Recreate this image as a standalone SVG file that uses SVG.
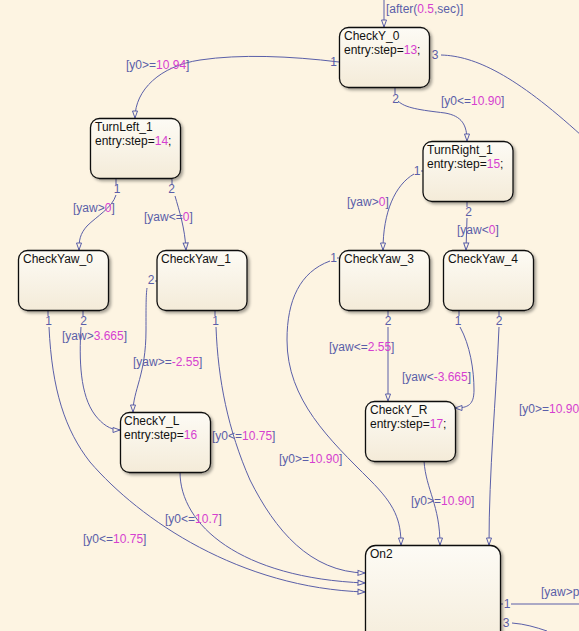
<svg xmlns="http://www.w3.org/2000/svg" width="579" height="631" viewBox="0 0 579 631">
<style>
text{font-family:"Liberation Sans",Arial,sans-serif;font-size:12px}
.nt{fill:#111}
.num{fill:#d63fd0}
.lbl{fill:#5a5ea8}
.idx{fill:#5a5ea8;text-anchor:middle}
.box{fill:url(#g);stroke:#111;stroke-width:1.3;filter:url(#sh)}
.c{fill:none;stroke:#5a5fa8;stroke-width:1}
.a{marker-end:url(#arr)}
</style>
<defs>
<linearGradient id="g" x1="0" y1="0" x2="0" y2="1">
<stop offset="0" stop-color="#fdfbf5"/>
<stop offset="1" stop-color="#f4ebd8"/>
</linearGradient>
<filter id="sh" x="-10%" y="-10%" width="130%" height="130%">
<feDropShadow dx="2" dy="2" stdDeviation="1.5" flood-color="#000" flood-opacity="0.35"/>
</filter>
<marker id="arr" markerUnits="userSpaceOnUse" markerWidth="9" markerHeight="7" refX="7.5" refY="3" orient="auto" overflow="visible">
<path d="M0.5,0.5 L7.5,3 L0.5,5.5 Z" fill="#fdf4e2" stroke="#5a5fa8" stroke-width="1"/>
</marker>
</defs>
<rect width="579" height="631" fill="#fdf4e2"/>

<g id="connectors">
<path class="c a" d="M384,0 L384,27"/>
<path class="c a" d="M339,62 C290,56 240,54 200,60 C160,66 135,90 135,118"/>
<path class="c a" d="M395,87 L395,94 M398,101 C405,108 420,110 445,113 C462,116 467,125 467,141"/>
<path class="c" d="M441,55 C475,56 515,75 582,136"/>
<path class="c a" d="M116,178 L116,185 M116,195 C112,208 97,216 87,226 C80,234 79,240 79,250"/>
<path class="c a" d="M172,178 L172,185 M175,196 C179,210 185,228 186,250"/>
<path class="c a" d="M83,310 L83,316 M81,327 C79,360 80,395 95,415 C102,424 110,430 120,430"/>
<path class="c a" d="M48,310 L48,316 M49,327 C52,390 65,430 90,462 C140,520 240,588 365,592"/>
<path class="c a" d="M157,281 L155,281 M147,288 C146,295 146,305 146,330 C146,375 133,390 133,412"/>
<path class="c a" d="M215,310 L215,316 M216,327 C218,380 228,430 250,480 C275,530 310,572 365,573"/>
<path class="c a" d="M180,472 C180,525 240,578 365,583"/>
<path class="c a" d="M423,171 L421,171 M414,174 C395,185 383,212 383,250"/>
<path class="c a" d="M467,201 L467,207 M467,218 L466,250"/>
<path class="c a" d="M339,258 L337,258 M330,261 C300,272 287,300 287,340 C287,400 330,440 370,480 C395,505 401,520 401,545"/>
<path class="c a" d="M388,310 L388,316 M388,327 L388,401"/>
<path class="c a" d="M459,310 L459,316 M460,327 C470,345 474,370 474,390 C474,405 468,408 455,408"/>
<path class="c a" d="M499,310 L499,316 M499,327 C496,400 489,470 489,545"/>
<path class="c a" d="M424,461 C426,490 440,505 440,545"/>
<path class="c" d="M501,604 L503,604 M511,604 L579,604"/>
<path class="c" d="M512,623 C525,624 535,627 547,631"/>

<text class="lbl" x="386" y="13">[after(<tspan class="num">0.5</tspan>,sec)]</text>
<text class="lbl" x="126" y="69">[y0&gt;=<tspan class="num">10.94</tspan>]</text>
<text class="lbl" x="441" y="105">[y0&lt;=<tspan class="num">10.90</tspan>]</text>
<text class="lbl" x="73" y="212">[yaw&gt;<tspan class="num">0</tspan>]</text>
<text class="lbl" x="144" y="221">[yaw&lt;=<tspan class="num">0</tspan>]</text>
<text class="lbl" x="347" y="206">[yaw&gt;<tspan class="num">0</tspan>]</text>
<text class="lbl" x="457" y="234">[yaw&lt;<tspan class="num">0</tspan>]</text>
<text class="lbl" x="62" y="340">[yaw&gt;<tspan class="num">3.665</tspan>]</text>
<text class="lbl" x="133" y="366">[yaw&gt;=<tspan class="num">-2.55</tspan>]</text>
<text class="lbl" x="329" y="351">[yaw&lt;=<tspan class="num">2.55</tspan>]</text>
<text class="lbl" x="402" y="381">[yaw&lt;<tspan class="num">-3.665</tspan>]</text>
<text class="lbl" x="519" y="413">[y0&gt;=<tspan class="num">10.90</tspan>]</text>
<text class="lbl" x="212" y="440">[y0&lt;=<tspan class="num">10.75</tspan>]</text>
<text class="lbl" x="279" y="463">[y0&gt;=<tspan class="num">10.90</tspan>]</text>
<text class="lbl" x="411" y="505">[y0&gt;=<tspan class="num">10.90</tspan>]</text>
<text class="lbl" x="165" y="523">[y0&lt;=<tspan class="num">10.7</tspan>]</text>
<text class="lbl" x="83" y="543">[y0&lt;=<tspan class="num">10.75</tspan>]</text>
<text class="lbl" x="541" y="596">[yaw&gt;p</text>

<text class="idx" x="333.5" y="66">1</text>
<text class="idx" x="395.5" y="102.5">2</text>
<text class="idx" x="435" y="58.5">3</text>
<text class="idx" x="117" y="193">1</text>
<text class="idx" x="171.5" y="193">2</text>
<text class="idx" x="417" y="175">1</text>
<text class="idx" x="468.5" y="215.5">2</text>
<text class="idx" x="48.5" y="324.5">1</text>
<text class="idx" x="83.5" y="324.5">2</text>
<text class="idx" x="151" y="284">2</text>
<text class="idx" x="215.5" y="324.5">1</text>
<text class="idx" x="333.5" y="261.5">1</text>
<text class="idx" x="388" y="324.5">2</text>
<text class="idx" x="458" y="324.5">1</text>
<text class="idx" x="499" y="324.5">2</text>
<text class="idx" x="507" y="607.5">1</text>
<text class="idx" x="506" y="626.5">3</text>
</g>

<g id="CheckY_0"><rect class="box" x="339.5" y="27.5" width="90" height="60" rx="9"/>
<text class="nt" x="344" y="40">CheckY_0</text>
<text class="nt" x="344" y="54">entry:step=<tspan class="num">13</tspan>;</text></g>

<g id="TurnLeft_1"><rect class="box" x="90.5" y="118.5" width="90" height="60" rx="9"/>
<text class="nt" x="95" y="131">TurnLeft_1</text>
<text class="nt" x="95" y="145">entry:step=<tspan class="num">14</tspan>;</text></g>

<g id="TurnRight_1"><rect class="box" x="423" y="141.5" width="90" height="60" rx="9"/>
<text class="nt" x="427" y="154">TurnRight_1</text>
<text class="nt" x="427" y="168">entry:step=<tspan class="num">15</tspan>;</text></g>

<g id="CheckYaw_0"><rect class="box" x="18.5" y="250.5" width="90" height="60" rx="9"/>
<text class="nt" x="23" y="263">CheckYaw_0</text></g>

<g id="CheckYaw_1"><rect class="box" x="157" y="250.5" width="90" height="60" rx="9"/>
<text class="nt" x="161" y="263">CheckYaw_1</text></g>

<g id="CheckYaw_3"><rect class="box" x="339.5" y="250.5" width="90" height="60" rx="9"/>
<text class="nt" x="344" y="263">CheckYaw_3</text></g>

<g id="CheckYaw_4"><rect class="box" x="443.5" y="250.5" width="90" height="60" rx="9"/>
<text class="nt" x="448" y="263">CheckYaw_4</text></g>

<g id="CheckY_L"><rect class="box" x="120.5" y="412.5" width="90" height="60" rx="9"/>
<text class="nt" x="124" y="425">CheckY_L</text>
<text class="nt" x="124" y="439">entry:step=<tspan class="num">16</tspan></text></g>

<g id="CheckY_R"><rect class="box" x="365.5" y="401.5" width="90" height="60" rx="9"/>
<text class="nt" x="370" y="414">CheckY_R</text>
<text class="nt" x="370" y="428">entry:step=<tspan class="num">17</tspan>;</text></g>

<g id="On2"><rect class="box" x="365.5" y="545.5" width="135" height="110" rx="10"/>
<text class="nt" x="370" y="558">On2</text></g>
</svg>
